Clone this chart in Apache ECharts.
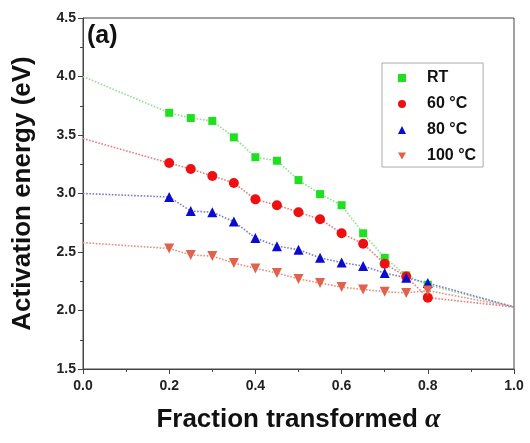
<!DOCTYPE html>
<html>
<head>
<meta charset="utf-8">
<script src="https://cdn.jsdelivr.net/npm/echarts@6/dist/echarts.min.js"></script>
<style>
  html, body { margin: 0; padding: 0; background: #fff; }
  #chart { width: 530px; height: 443px; }
</style>
</head>
<body>
<div id="chart"></div>
<script>
// Fraction transformed (alpha) at which activation energy was evaluated
var alpha = [0.2, 0.25, 0.3, 0.35, 0.4, 0.45, 0.5, 0.55, 0.6, 0.65, 0.7, 0.75, 0.8];

// Activation energy (eV) for each ageing temperature
var eRT   = [3.69, 3.645, 3.62, 3.48, 3.31, 3.28, 3.115, 2.995, 2.90, 2.66, 2.45, 2.30, 2.22];
var e60   = [3.26, 3.21, 3.15, 3.09, 2.95, 2.90, 2.84, 2.78, 2.66, 2.57, 2.40, 2.29, 2.11];
var e80   = [2.97, 2.85, 2.84, 2.76, 2.62, 2.55, 2.52, 2.45, 2.41, 2.38, 2.32, 2.28, 2.235];
var e100  = [2.53, 2.475, 2.465, 2.405, 2.36, 2.32, 2.27, 2.235, 2.20, 2.18, 2.16, 2.15, 2.17];

// Guide-line extrapolations to alpha = 0 and alpha = 1
var guideStart = [4.0, 3.47, 3.0, 2.58];
var guideEnd = 2.03;

var seriesNames = ['RT', '60 °C', '80 °C', '100 °C'];
var xTicks = [0.0, 0.2, 0.4, 0.6, 0.8, 1.0];
var yTicks = [1.5, 2.0, 2.5, 3.0, 3.5, 4.0, 4.5];

var colors = ['#1fe01f', '#ee1010', '#0a0ad0', '#e2614a'];
var guideColors = ['#8fe08f', '#ee7a7a', '#7a7ad8', '#e8907f'];
var symbols = ['rect', 'circle', 'triangle', 'triangle'];
var symbolSizes = [8, 10, 10, 10];
var rotations = [0, 0, 0, 180];
var downTri = 'path://M0,0L10,0L5,9Z';

var values = [eRT, e60, e80, e100];

function pairs(ys) {
  return alpha.map(function (a, i) { return [a, ys[i]]; });
}

var series = [];
// dotted guide lines (drawn first so the markers sit on top)
values.forEach(function (ys, k) {
  var d = [[0, guideStart[k]]].concat(pairs(ys)).concat([[1, guideEnd]]);
  series.push({
    name: 'guide-' + k,
    type: 'line',
    data: d,
    symbol: 'none',
    silent: true,
    lineStyle: { color: guideColors[k], width: 1.6, type: 'dotted' },
    z: 1
  });
});
values.forEach(function (ys, k) {
  series.push({
    name: seriesNames[k],
    type: 'scatter',
    data: pairs(ys),
    symbol: symbols[k],
    symbolSize: symbolSizes[k],
    symbolRotate: rotations[k],
    itemStyle: { color: colors[k], opacity: 1 },
    z: 3 + k
  });
});

var font = 'Liberation Sans, Arial, sans-serif';

var chart = echarts.init(document.getElementById('chart'), null, { renderer: 'canvas' });
chart.setOption({
  animation: false,
  backgroundColor: '#fff',
  title: {
    text: '(a)',
    left: 82, top: 19,
    textStyle: { fontFamily: font, fontWeight: 'bold', fontSize: 25, color: '#111' }
  },
  grid: {
    left: 83, right: 16, top: 18, bottom: 74,
    show: true, borderColor: '#444', borderWidth: 1, backgroundColor: 'transparent'
  },
  legend: {
    orient: 'vertical',
    left: 382, top: 63,
    padding: [7, 7, 3, 16],
    itemGap: 10,
    itemWidth: 8, itemHeight: 8,
    borderColor: '#aaa', borderWidth: 1,
    backgroundColor: '#fff',
    textStyle: { fontFamily: font, fontWeight: 'bold', fontSize: 16, color: '#111', padding: [0, 0, 0, 16] },
    data: [
      { name: 'RT', icon: 'rect', itemStyle: { color: colors[0] } },
      { name: '60 °C', icon: 'circle', itemStyle: { color: colors[1] } },
      { name: '80 °C', icon: 'triangle', itemStyle: { color: colors[2] } },
      { name: '100 °C', icon: downTri, itemStyle: { color: colors[3] } }
    ]
  },
  xAxis: {
    type: 'value',
    min: xTicks[0], max: xTicks[xTicks.length - 1], interval: 0.2,
    name: 'Fraction transformed {a|α}',
    nameLocation: 'middle',
    nameGap: 37,
    nameTextStyle: {
      fontFamily: font, fontWeight: 'bold', fontSize: 26, color: '#111',
      rich: { a: { fontFamily: 'Liberation Serif, Times New Roman, serif', fontStyle: 'italic', fontWeight: 'bold', fontSize: 28, color: '#111' } }
    },
    axisLine: { onZero: false, lineStyle: { color: '#444', width: 1 } },
    axisTick: { show: true, inside: false, length: 5, lineStyle: { color: '#444' } },
    minorTick: { show: true, splitNumber: 2, length: 3, lineStyle: { color: '#444' } },
    splitLine: { show: false },
    axisLabel: {
      margin: 10,
      fontFamily: font, fontWeight: 'bold', fontSize: 14, color: '#222',
      formatter: function (v) { return v.toFixed(1); }
    }
  },
  yAxis: {
    type: 'value',
    min: yTicks[0], max: yTicks[yTicks.length - 1], interval: 0.5,
    name: 'Activation energy (eV)',
    nameLocation: 'middle',
    nameGap: 47,
    nameTextStyle: { fontFamily: font, fontWeight: 'bold', fontSize: 26, color: '#111' },
    axisLine: { onZero: false, lineStyle: { color: '#444', width: 1 } },
    axisTick: { show: true, inside: false, length: 5, lineStyle: { color: '#444' } },
    minorTick: { show: true, splitNumber: 2, length: 3, lineStyle: { color: '#444' } },
    splitLine: { show: false },
    axisLabel: {
      margin: 7,
      fontFamily: font, fontWeight: 'bold', fontSize: 14, color: '#222',
      formatter: function (v) { return v.toFixed(1); }
    }
  },
  series: series
});
</script>
</body>
</html>
